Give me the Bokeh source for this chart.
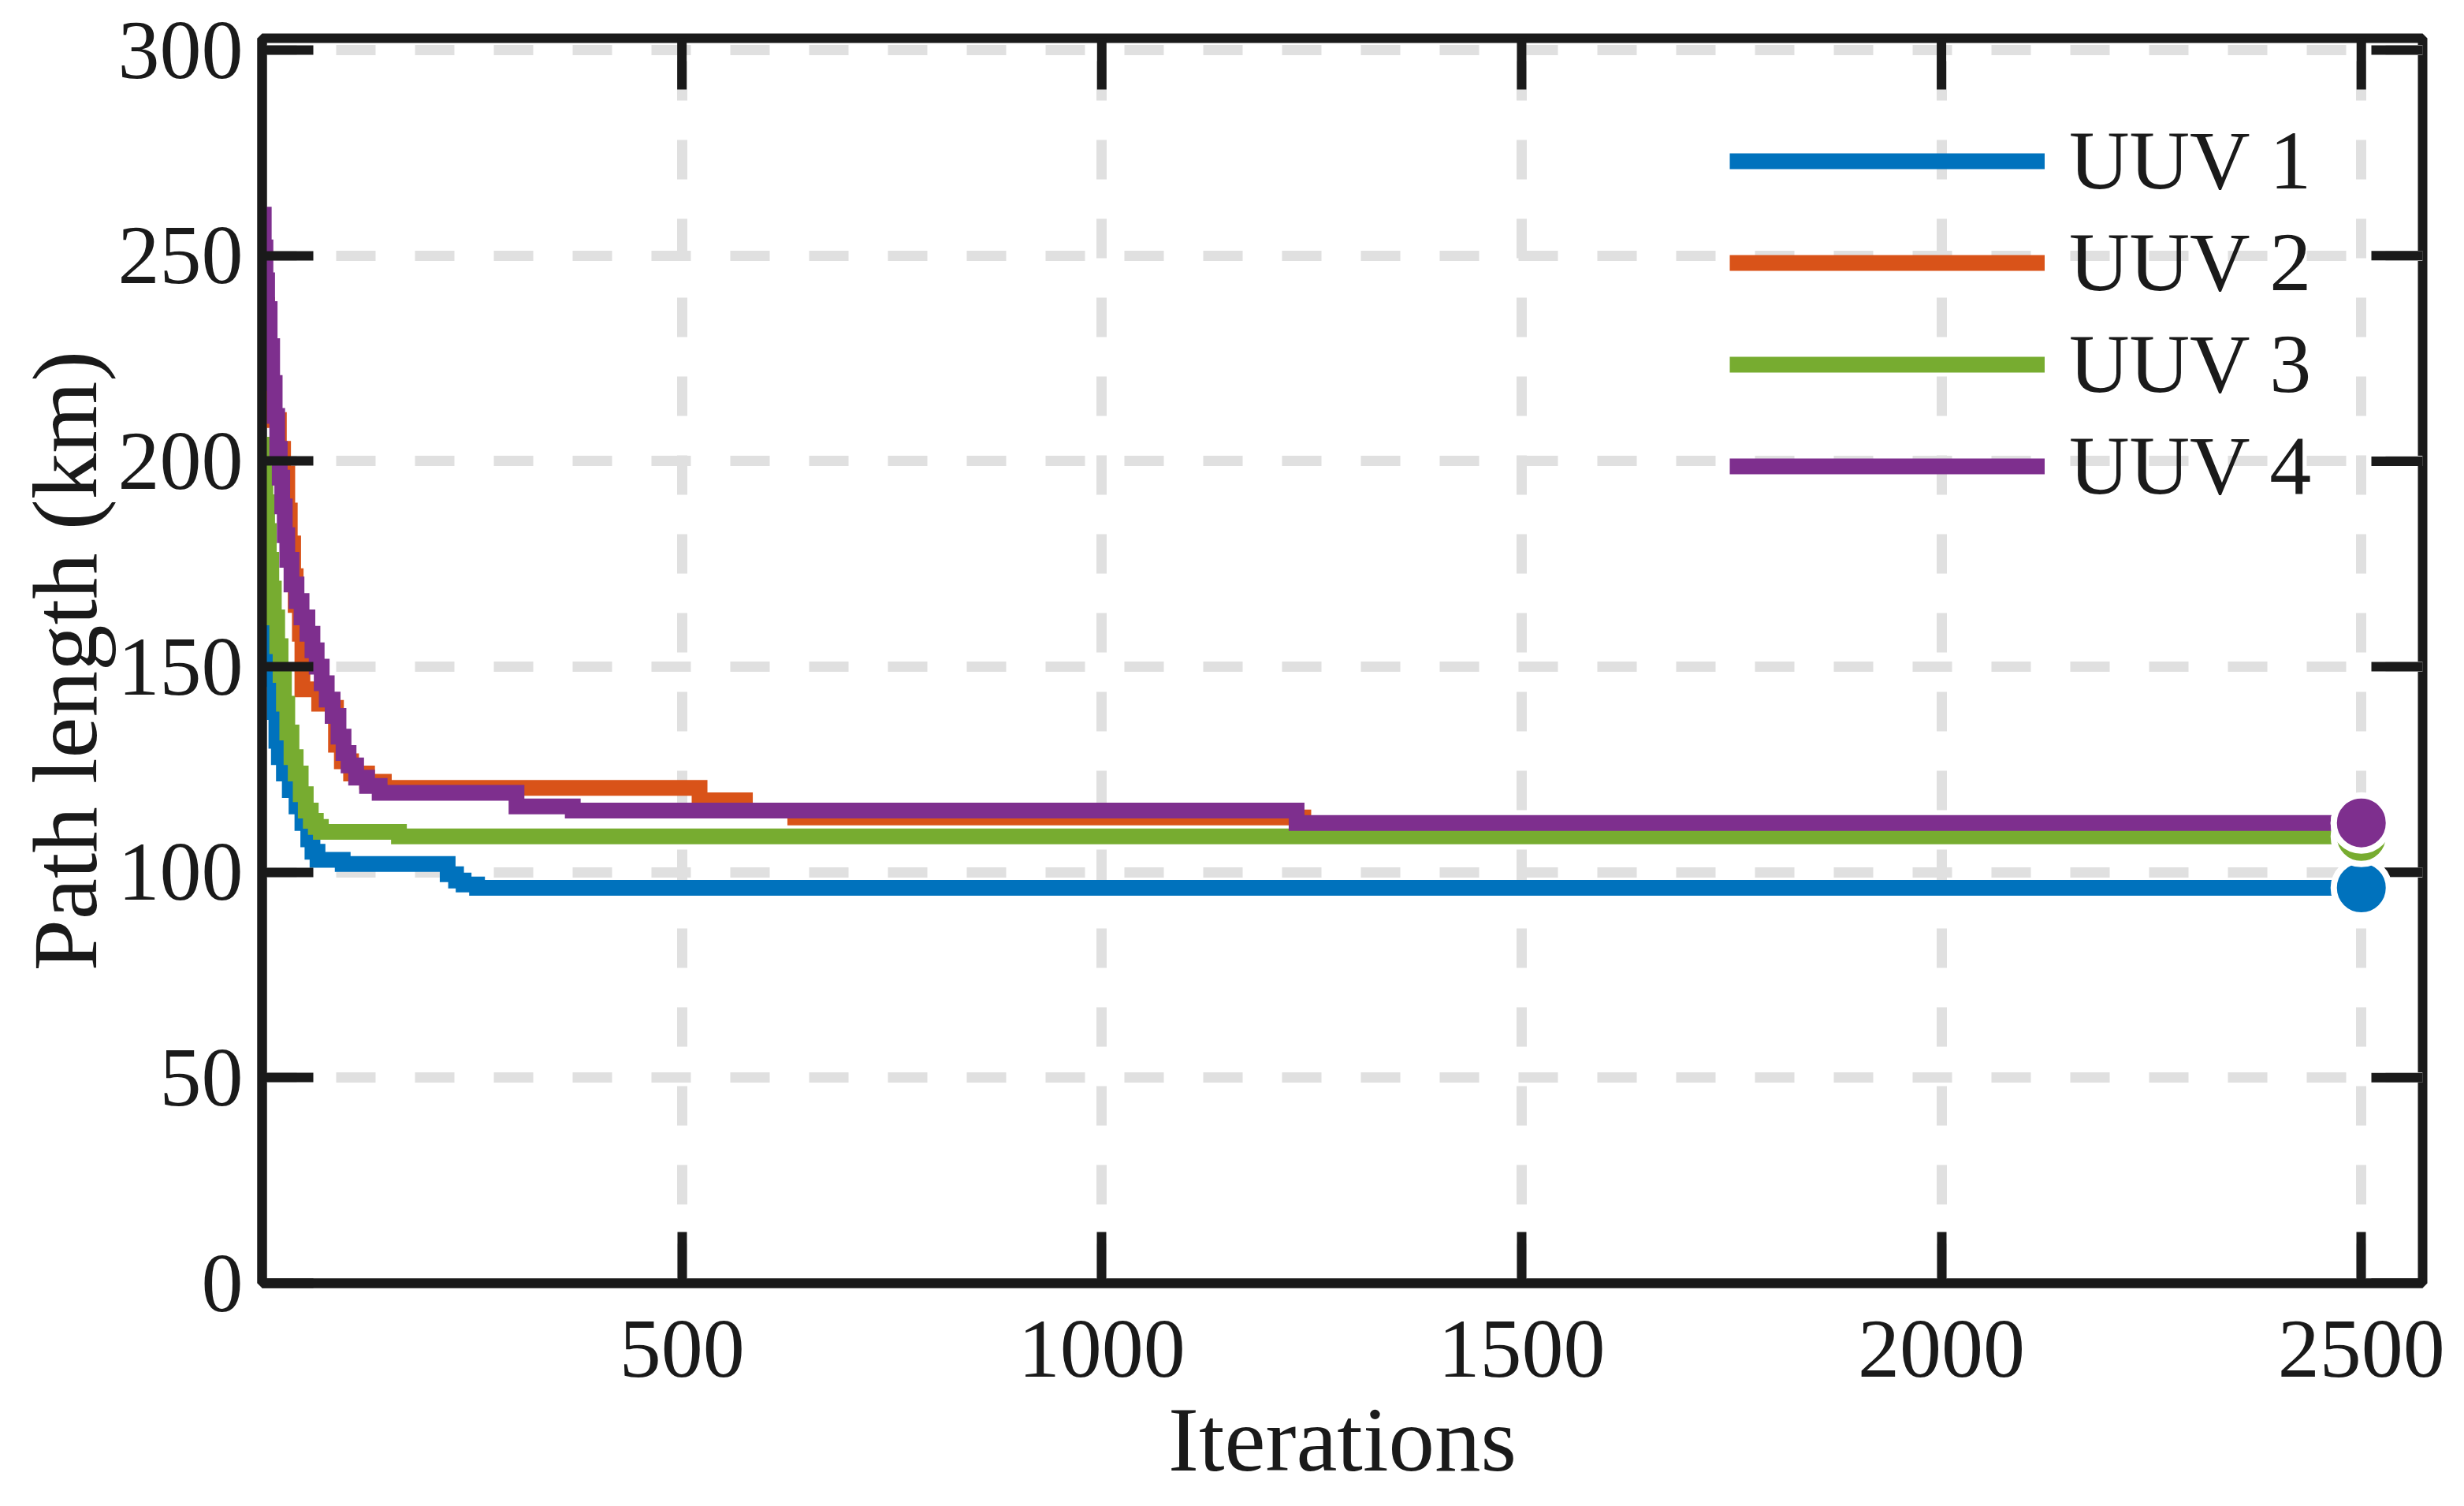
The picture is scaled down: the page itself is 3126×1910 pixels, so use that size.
import math
from bokeh.plotting import figure
from bokeh.models import Range1d, FixedTicker, Legend, LegendItem, ColumnDataSource
from bokeh.embed import file_html
from bokeh.resources import INLINE

# ---- data ----
uuv1_iter = [1, 3, 5, 7, 10, 13, 15, 17, 20, 26, 33, 41, 48, 55, 60, 66, 96, 221, 231, 240, 256, 2500]
uuv1_len = [195, 180, 172, 165, 156, 147, 139, 132, 128, 124, 120, 116, 112, 108, 105, 103, 102, 99.5, 98, 97, 96.2, 96.2]

uuv2_iter = [1, 3, 6, 10, 14, 20, 25, 30, 33, 37, 40, 45, 48, 68, 84, 88, 95, 106, 125, 145, 521, 575, 635, 1240, 2500]
uuv2_len = [248, 238, 228, 218, 210, 203, 197, 188, 180, 172, 165, 158, 144.5, 141, 140, 131, 127, 124, 122, 120.5, 117.5, 115, 113.3, 111.9, 111.9]

uuv3_iter = [1, 2, 4, 6, 8, 11, 14, 18, 22, 26, 30, 35, 40, 46, 52, 58, 64, 70, 163, 2500]
uuv3_len = [204, 197, 190, 183, 176, 169, 162, 155, 148, 141, 134, 128, 124, 119, 115, 112.5, 111, 109.8, 108.7, 108.7]

uuv4_iter = [1, 2, 4, 6, 9, 12, 15, 18, 21, 24, 27, 30, 35, 41, 47, 54, 60, 65, 71, 77, 84, 91, 97, 103, 112, 125, 140, 303, 370, 1232, 2500]
uuv4_len = [260, 252, 244, 237, 228, 219, 211, 203, 196, 189, 182, 176, 170, 166, 162, 158, 154, 150, 146, 142, 138, 133, 129, 126, 123, 121, 119.3, 116, 115, 112, 112]

series_names = ["UUV 1", "UUV 2", "UUV 3", "UUV 4"]
series_colors = ["#0072BD", "#D95319", "#77AC30", "#7E2F8E"]
x_ticks = [500, 1000, 1500, 2000, 2500]
y_ticks = [0, 50, 100, 150, 200, 250, 300]
x_lim = [0, 2573]
y_lim = [0, 302.9]

FONT = "Liberation Serif"
INK = "#1a1a1a"

p = figure(width=3110, height=1894, output_backend="svg", toolbar_location=None,
           x_range=Range1d(*x_lim), y_range=Range1d(*y_lim),
           min_border_left=332, min_border_right=37, min_border_top=48, min_border_bottom=267,
           background_fill_color="white", border_fill_color="white")

p.outline_line_color = INK
p.outline_line_width = 12

# grids
for g, t in ((p.xgrid, x_ticks), (p.ygrid, y_ticks)):
    g.ticker = FixedTicker(ticks=t)
    g.grid_line_color = "#e0e0e0"
    g.grid_line_width = 13
    g.grid_line_dash = "50 50"
p.ygrid.grid_line_dash_offset = 6

def style_axis(ax, ticks, standoff, label_standoff):
    ax.ticker = FixedTicker(ticks=ticks)
    ax.axis_line_color = INK
    ax.axis_line_width = 12
    ax.major_tick_line_color = INK
    ax.major_tick_line_width = 12
    ax.major_tick_in = 65
    ax.major_tick_out = 0
    ax.minor_tick_line_color = None
    ax.major_label_text_font = FONT
    ax.major_label_text_font_size = "106px"
    ax.major_label_text_color = INK
    ax.major_label_standoff = standoff
    ax.axis_label_text_font = FONT
    ax.axis_label_text_font_size = "117px"
    ax.axis_label_text_font_style = "normal"
    ax.axis_label_text_color = INK
    ax.axis_label_standoff = label_standoff

style_axis(p.xaxis[0], x_ticks, 48, 12)
style_axis(p.yaxis[0], y_ticks, 24, 0)
p.xaxis[0].axis_label = "Iterations"
p.yaxis[0].axis_label = "Path length (km)"

# mirrored inward ticks on the top and right edges
p.ray(x=x_ticks, y=[y_lim[1]] * len(x_ticks), length=65, length_units="screen",
      angle=-math.pi / 2, line_color=INK, line_width=12, line_cap="butt")
p.ray(x=[x_lim[1]] * len(y_ticks), y=y_ticks, length=65, length_units="screen",
      angle=math.pi, line_color=INK, line_width=12, line_cap="butt")

iters = [uuv1_iter, uuv2_iter, uuv3_iter, uuv4_iter]
lens = [uuv1_len, uuv2_len, uuv3_len, uuv4_len]
items = []
for name, col, xs, ys in zip(series_names, series_colors, iters, lens):
    r = p.step(x=xs, y=ys, mode="after", line_color=col, line_width=20,
               line_join="miter", line_cap="butt")
    items.append(LegendItem(label=name, renderers=[r]))

# final-value markers
final_src = ColumnDataSource(dict(
    x=[xs[-1] for xs in iters],
    y=[ys[-1] for ys in lens],
    c=series_colors,
))
p.scatter(x="x", y="y", source=final_src, size=70, fill_color="c",
          line_color="white", line_width=8, marker="circle")

legend = Legend(items=items, location=(1862, 975))
legend.border_line_color = None
legend.background_fill_alpha = 0
legend.padding = 0
legend.margin = 0
legend.glyph_width = 400
legend.glyph_height = 100
legend.label_height = 100
legend.label_standoff = 31
legend.spacing = 7
legend.label_text_font = FONT
legend.label_text_font_size = "106px"
legend.label_text_color = INK
p.add_layout(legend, "center")

open("out.html", "w").write(file_html(p, INLINE))
